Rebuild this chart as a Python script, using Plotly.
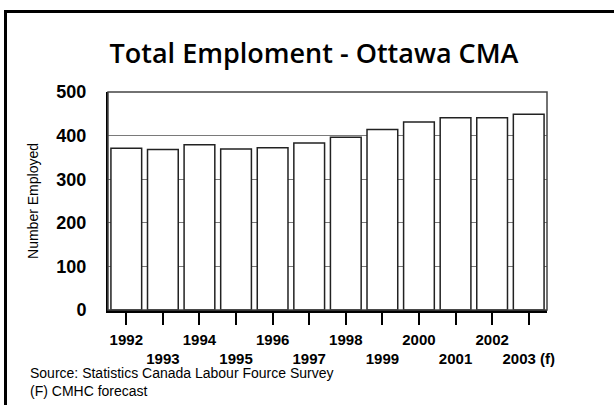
import plotly.graph_objects as go

# ---- data ----
years = ["1992", "1993", "1994", "1995", "1996", "1997",
         "1998", "1999", "2000", "2001", "2002", "2003"]
tick_labels = ["1992", "<br>1993", "1994", "<br>1995", "1996", "<br>1997",
               "1998", "<br>1999", "2000", "<br>2001", "2002", "<br>2003 (f)"]
employed = [371, 368, 379, 369, 372, 383, 396, 414, 431, 441, 441, 449]
y_ticks = [0, 100, 200, 300, 400, 500]

title_text = "Total Emploment - Ottawa CMA"
y_title = "Number Employed"
source_lines = ["Source: Statistics Canada Labour Fource Survey", "(F) CMHC forecast"]

# ---- layout geometry (pixels) ----
W, H = 614, 405
L, R, T, B = 108, 547, 92, 310
pw, ph = R - L, B - T

def px(x):
    return (x - L) / pw

def py(y):
    return (B - y) / ph

FONT = "Liberation Sans, Arial, sans-serif"

def bold_tick(t):
    if t.startswith("<br>"):
        return "<br><b>" + t[4:] + "</b>"
    return "<b>" + t + "</b>"

fig = go.Figure(go.Bar(
    x=years, y=employed,
    marker=dict(color="white", line=dict(color="#222222", width=1.5)),
    hoverinfo="x+y",
))

fig.update_layout(
    width=W, height=H,
    margin=dict(l=L, r=W - R, t=T, b=H - B),
    paper_bgcolor="white", plot_bgcolor="white",
    bargap=0.16,
    showlegend=False,
    title=dict(text=title_text, x=314 / W, xanchor="center",
               y=1 - 54 / H, yanchor="middle", yref="container",
               font=dict(family="Open Sans", size=27, weight=600, color="black")),
    font=dict(family=FONT, color="black"),
)

fig.update_xaxes(
    type="category",
    tickvals=years, ticktext=[bold_tick(t) for t in tick_labels],
    tickangle=0,
    ticks="outside", ticklen=12, tickwidth=1.5, tickcolor="black",
    ticklabelstandoff=2,
    tickfont=dict(family=FONT, size=15, color="black"),
    showline=True, linecolor="black", linewidth=2.5,
    showgrid=False, zeroline=False, fixedrange=True,
)

fig.update_yaxes(
    range=[0, 500], tickvals=y_ticks,
    ticktext=["<b>%d</b>" % v for v in y_ticks],
    ticks="outside", ticklen=16, tickcolor="rgba(0,0,0,0)",
    tickfont=dict(family=FONT, size=18, color="black"),
    showline=True, linecolor="black", linewidth=2,
    showgrid=True, gridcolor="#7a7a7a", gridwidth=1,
    zeroline=False, fixedrange=True,
    title=dict(text=y_title, font=dict(family=FONT, size=14, color="black"), standoff=14),
)

# plot border (top/right)
fig.add_shape(type="rect", xref="paper", yref="paper", x0=0, y0=0, x1=1, y1=1,
              line=dict(color="#444444", width=1.5), layer="above")

# outer frame
fig.add_shape(type="path", xref="paper", yref="paper",
              path="M %f,%f L %f,%f L %f,%f" % (px(5.5), py(420), px(5.5), py(11.5), px(625), py(11.5)),
              line=dict(color="black", width=3), layer="above")

fig.add_annotation(text="<br>".join(source_lines), xref="paper", yref="paper",
                   x=px(28), y=py(363), xanchor="left", yanchor="top", align="left",
                   showarrow=False, font=dict(family=FONT, size=14, color="black"))

fig.write_html("out.html")
